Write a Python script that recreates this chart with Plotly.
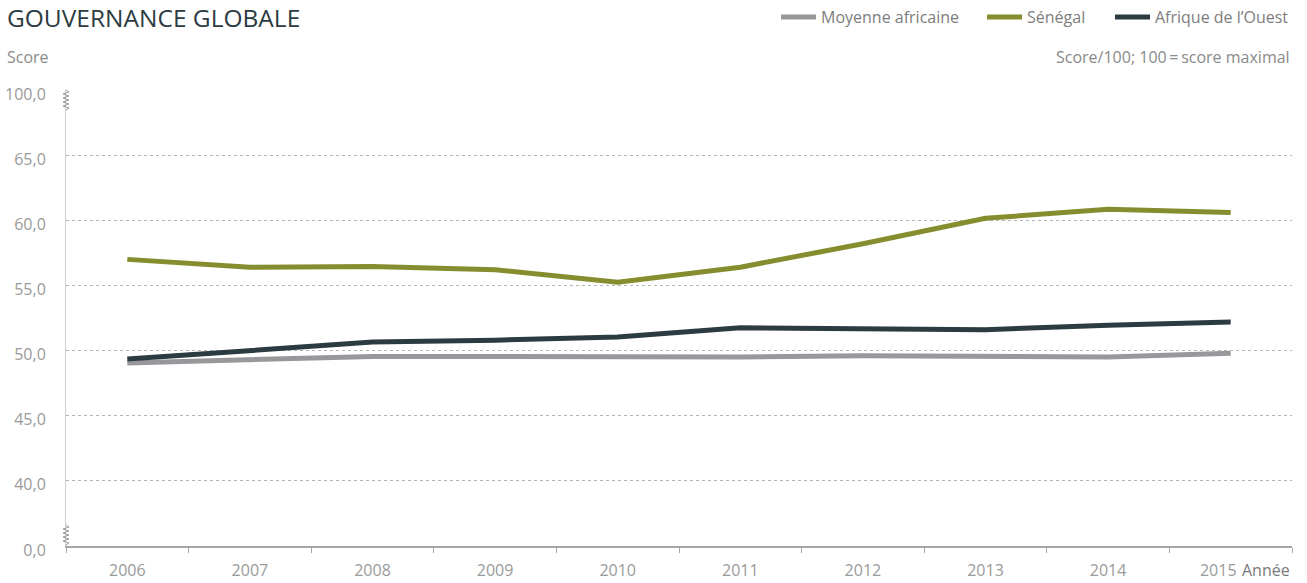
import plotly.graph_objects as go

years = ["2006", "2007", "2008", "2009", "2010", "2011", "2012", "2013", "2014", "2015"]
year_labels = ["2006", "2007", "2008", "2009", "2010", "2011", "2012", "2013", "2014",
               "2015\u00a0\u00a0\u00a0\u00a0\u00a0\u00a0"]
moyenne_africaine = [49.05, 49.3, 49.55, 49.55, 49.55, 49.5, 49.6, 49.55, 49.5, 49.8]
senegal = [57.0, 56.4, 56.45, 56.2, 55.25, 56.4, 58.2, 60.15, 60.85, 60.6]
afrique_ouest = [49.35, 50.0, 50.65, 50.8, 51.05, 51.75, 51.65, 51.6, 51.95, 52.2]

# broken axis: positions 35 and 70 stand for 0 and 100
y_tickvals = [35, 40, 45, 50, 55, 60, 65, 70]
y_ticktext = ["0,0", "40,0", "45,0", "50,0", "55,0", "60,0", "65,0", "100,0"]

FONT = "Open Sans"
GRAY_TXT = "#9a9a9a"
L, R = 66, 15
PLOT_W = 1307 - L - R

fig = go.Figure()
series = [
    ("Moyenne africaine", moyenne_africaine, "#98979c", "legend", 776),
    ("Sénégal", senegal, "#868d2f", "legend2", 982),
    ("Afrique de l\u2019Ouest", afrique_ouest, "#2c3a41", "legend3", 1110),
]
legend_defs = {}
for name, vals, col, lg, px in series:
    fig.add_trace(go.Scatter(x=years, y=vals, name=name, mode="lines", legend=lg,
                             line=dict(color=col, width=5)))
    legend_defs[lg] = dict(orientation="h", x=(px - L) / PLOT_W, xanchor="left", y=1, yanchor="top",
                           yref="container", xref="paper",
                           font=dict(size=16, color="#7d7d7d"),
                           itemwidth=35, bgcolor="rgba(0,0,0,0)", borderwidth=0)

fig.update_layout(
    width=1307, height=583,
    margin=dict(l=L, r=R, t=90, b=37, autoexpand=False),
    paper_bgcolor="white", plot_bgcolor="white",
    font=dict(family=FONT, size=16, color=GRAY_TXT),
    showlegend=True,
    **legend_defs,
)

fig.update_xaxes(
    type="category", range=[-0.5, 9.5], tickvals=years, ticktext=year_labels,
    showgrid=False, showline=True, linecolor="#a5a5a8", linewidth=2,
    ticks="outside", tickson="boundaries", ticklen=5, tickcolor="#a5a5a8", tickwidth=1,
    tickfont=dict(size=16, color=GRAY_TXT), ticklabelstandoff=9,
    zeroline=False, automargin=False,
)
fig.update_yaxes(
    range=[35, 70], tickvals=y_tickvals, ticktext=y_ticktext,
    showgrid=True, gridcolor="#b5b5b5", griddash="dot", gridwidth=1,
    showline=True, linecolor="#cfcfcf", linewidth=1,
    ticks="", tickfont=dict(size=16, color=GRAY_TXT), ticklabelstandoff=16,
    ticklabelshift=4, zeroline=False, automargin=False,
)


# axis-break zigzags (pixel-sized paths anchored on the y axis)
def zig_path(yoff, n=9, amp=3, step=2.0):
    pts = [(0, 0)] + [((amp if k % 2 else -amp), k * step) for k in range(1, n + 1)] + [(0, (n + 1) * step)]
    return " ".join(("M" if i == 0 else "L") + f" {x} {y + yoff}" for i, (x, y) in enumerate(pts))


for yv, yoff in [(35, 1), (70, -20)]:
    fig.add_shape(type="path", xref="paper", yref="y", xsizemode="pixel", ysizemode="pixel",
                  xanchor=0, yanchor=yv, path=zig_path(yoff),
                  line=dict(color="#9a9a9a", width=1))

# titles and labels
fig.add_annotation(text="GOUVERNANCE GLOBALE", xref="paper", yref="paper", x=-60 / PLOT_W, y=1,
                   yshift=90, xanchor="left", yanchor="top", showarrow=False, borderpad=0,
                   font=dict(family=FONT, size=24.5, color="#2d3b42", weight=500))
fig.add_annotation(text="Score", xref="paper", yref="paper", x=-61 / PLOT_W, y=1, yshift=33,
                   xanchor="left", yanchor="middle", showarrow=False,
                   font=dict(size=16, color="#8a8a8a"))
fig.add_annotation(text="Score/100; 100\u2009=\u2009score maximal", xref="paper", yref="paper", x=1, y=1,
                   yshift=33, xanchor="right", yanchor="middle", showarrow=False,
                   font=dict(size=16, color="#8a8a8a"))
fig.add_annotation(text="Année", xref="paper", yref="paper", x=1, y=0, yshift=-24,
                   xanchor="right", yanchor="middle", showarrow=False,
                   font=dict(size=16, color="#7a7a7a"))

fig.write_html("out.html", config={"displayModeBar": False},
               post_script="document.body.style.margin='0';document.body.style.padding='0';")
